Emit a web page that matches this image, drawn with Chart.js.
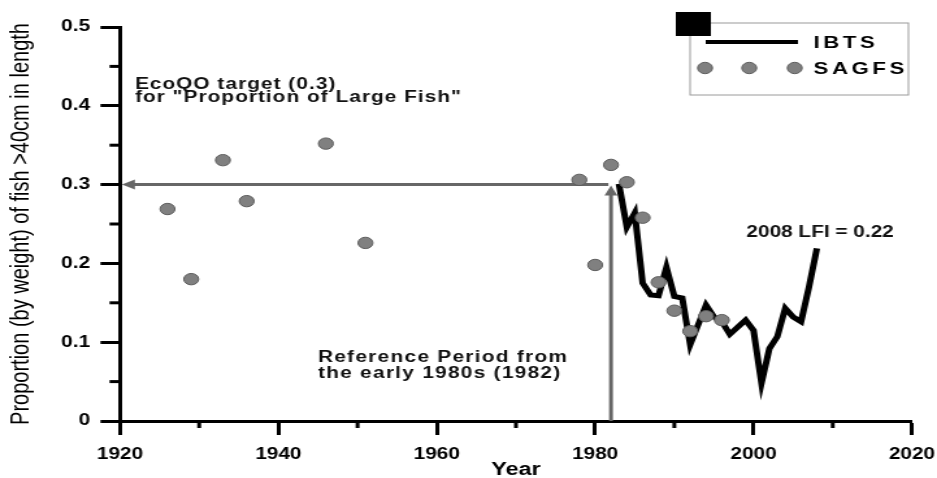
<!DOCTYPE html>
<html>
<head>
<meta charset="utf-8">
<title>Proportion of large fish</title>
<script src="https://cdn.jsdelivr.net/npm/chart.js@4.4.1/dist/chart.umd.min.js"></script>
<style>
  html, body { margin: 0; padding: 0; background: #fff; overflow: hidden; }
  /* the original figure is stretched sideways, so the chart is too */
  #wrap { width: 721px; height: 478px; transform: scaleX(1.2996); transform-origin: 0 0; }
</style>
</head>
<body>
<div id="wrap"><canvas id="lfiChart"></canvas></div>
<script>
// SAGFS survey points
const sagfsYears = [1926, 1929, 1933, 1936, 1946, 1951, 1978, 1980, 1982, 1984, 1986, 1988, 1990, 1992, 1994, 1996];
const sagfsValues = [0.269, 0.18, 0.331, 0.279, 0.352, 0.226, 0.306, 0.198, 0.325, 0.303, 0.258, 0.176, 0.14, 0.114, 0.133, 0.128];

// IBTS yearly series
const ibtsYears = [1983, 1984, 1985, 1986, 1987, 1988, 1989, 1990, 1991, 1992, 1993, 1994, 1995,
                   1996, 1997, 1998, 1999, 2000, 2001, 2002, 2003, 2004, 2005, 2006, 2007, 2008];
const ibtsValues = [0.301, 0.246, 0.264, 0.175, 0.16, 0.159, 0.195, 0.158, 0.156, 0.097, 0.122, 0.147, 0.132,
                    0.126, 0.11, 0.119, 0.128, 0.115, 0.048, 0.092, 0.107, 0.143, 0.132, 0.126, 0.17, 0.219];

// tick labels
const yearTicks = [1920, 1940, 1960, 1980, 2000, 2020];
const yearMinorTicks = [1930, 1950, 1970, 1990, 2010];
const propTicks = [0, 0.1, 0.2, 0.3, 0.4, 0.5];
const propMinorTicks = [0.05, 0.15, 0.25, 0.35, 0.45];

// EcoQO target and reference year
const ecoqoTarget = 0.3;
const referenceYear = 1982;

const FONT = "'Liberation Sans', Arial, sans-serif";
const ARROW_GREY = '#676767';

function drawArrow(ctx, x1, y1, x2, y2) {
    // head sits at x2, y2
    const ang = Math.atan2(y2 - y1, x2 - x1);
    const len = 10, half = 5;
    const c = Math.cos(ang), s = Math.sin(ang);
    ctx.beginPath();
    ctx.moveTo(x1, y1);
    ctx.lineTo(x2 - c * len * 0.7, y2 - s * len * 0.7);
    ctx.stroke();
    ctx.beginPath();
    ctx.moveTo(x2, y2);
    ctx.lineTo(x2 - c * len - s * half, y2 - s * len + c * half);
    ctx.lineTo(x2 - c * len + s * half, y2 - s * len - c * half);
    ctx.closePath();
    ctx.fill();
}

function spacedText(ctx, str, x, y, font, spacing) {
    ctx.font = font;
    ctx.letterSpacing = spacing + 'px';
    ctx.fillText(str, x, y);
    ctx.letterSpacing = '0px';
}

const figurePlugin = {
    id: 'figureExtras',
    beforeDatasetsDraw(chart) {
        const ctx = chart.ctx;
        const xs = chart.scales.x, ys = chart.scales.y;
        const xRef = xs.getPixelForValue(referenceYear);
        const yTarget = ys.getPixelForValue(ecoqoTarget);
        ctx.save();
        ctx.strokeStyle = ARROW_GREY;
        ctx.fillStyle = ARROW_GREY;
        ctx.lineWidth = 3;
        drawArrow(ctx, xRef - 2, yTarget, xs.getPixelForValue(1920) + 1.5, yTarget);
        drawArrow(ctx, xRef, ys.getPixelForValue(0), xRef, yTarget + 1);
        ctx.restore();
    },
    afterDraw(chart) {
        const ctx = chart.ctx;
        const xs = chart.scales.x, ys = chart.scales.y;
        ctx.save();

        // minor ticks
        ctx.strokeStyle = '#000';
        ctx.lineWidth = 3;
        yearMinorTicks.forEach(function(v) {
            const px = xs.getPixelForValue(v);
            ctx.beginPath();
            ctx.moveTo(px, chart.chartArea.bottom);
            ctx.lineTo(px, chart.chartArea.bottom + 7);
            ctx.stroke();
        });
        propMinorTicks.forEach(function(v) {
            const py = ys.getPixelForValue(v);
            ctx.beginPath();
            ctx.moveTo(chart.chartArea.left, py);
            ctx.lineTo(chart.chartArea.left - 8, py);
            ctx.stroke();
        });

        // annotation texts
        ctx.fillStyle = '#111';
        ctx.textBaseline = 'alphabetic';
        ctx.textAlign = 'left';
        const bold16 = 'bold 16px ' + FONT;
        spacedText(ctx, 'EcoQO target (0.3)', xs.getPixelForValue(1921.9), ys.getPixelForValue(0.421), bold16, 0.8);
        spacedText(ctx, 'for "Proportion of Large Fish"', xs.getPixelForValue(1921.9), ys.getPixelForValue(0.405), bold16, 0.8);
        spacedText(ctx, 'Reference Period from', xs.getPixelForValue(1945), ys.getPixelForValue(0.075), bold16, 1.0);
        spacedText(ctx, 'the early 1980s (1982)', xs.getPixelForValue(1945), ys.getPixelForValue(0.055), bold16, 1.0);
        spacedText(ctx, '2008 LFI = 0.22', xs.getPixelForValue(1999.1), ys.getPixelForValue(0.234), bold16, 0);

        // legend
        ctx.strokeStyle = '#9a9a9a';
        ctx.lineWidth = 1;
        ctx.strokeRect(531, 23, 168, 72);
        ctx.fillStyle = '#000';
        ctx.fillRect(520, 12, 27, 24);
        ctx.strokeStyle = '#000';
        ctx.lineWidth = 4;
        ctx.beginPath();
        ctx.moveTo(543, 42);
        ctx.lineTo(614, 42);
        ctx.stroke();
        [542.5, 576.5, 611.5].forEach(function(cx) {
            ctx.beginPath();
            ctx.arc(cx, 68, 5.7, 0, Math.PI * 2);
            ctx.fillStyle = '#808080';
            ctx.fill();
            ctx.lineWidth = 1;
            ctx.strokeStyle = '#5c5c5c';
            ctx.stroke();
        });
        ctx.fillStyle = '#000';
        spacedText(ctx, 'IBTS', 626, 47.5, 'bold 17px ' + FONT, 2.8);
        spacedText(ctx, 'SAGFS', 626, 73.5, 'bold 17px ' + FONT, 2.8);

        ctx.restore();
    }
};

const ctx = document.getElementById('lfiChart');

new Chart(ctx, {
    data: {
        datasets: [
            {
                type: 'scatter',
                label: 'SAGFS',
                data: sagfsYears.map(function(yr, i) { return { x: yr, y: sagfsValues[i] }; }),
                backgroundColor: '#808080',
                borderColor: '#5c5c5c',
                borderWidth: 1,
                pointRadius: 5.7,
                order: 1
            },
            {
                type: 'line',
                label: 'IBTS',
                data: ibtsYears.map(function(yr, i) { return { x: yr, y: ibtsValues[i] }; }),
                borderColor: '#000',
                borderWidth: 5,
                pointRadius: 0,
                tension: 0,
                fill: false,
                order: 2
            }
        ]
    },
    options: {
        responsive: true,
        maintainAspectRatio: false,
        animation: false,
        layout: { padding: { left: 0, right: 19.3, top: 27, bottom: 0 } },
        plugins: {
            legend: { display: false },
            tooltip: { enabled: false }
        },
        scales: {
            x: {
                type: 'linear',
                min: 1920,
                max: 2020,
                afterFit: function(scale) {
                    scale.height = 57;
                    scale.paddingLeft = 0;
                    scale.paddingRight = 0;
                },
                afterBuildTicks: function(scale) {
                    scale.ticks = yearTicks.map(function(v) { return { value: v }; });
                },
                ticks: {
                    padding: 10,
                    color: '#000',
                    font: { family: FONT, size: 16, weight: 'bold' },
                    callback: function(v) { return String(v); }
                },
                grid: {
                    drawOnChartArea: false,
                    drawTicks: true,
                    tickLength: 14,
                    tickWidth: 3,
                    tickColor: '#000'
                },
                border: { display: true, color: '#000', width: 3 },
                title: {
                    display: true,
                    text: 'Year',
                    color: '#000',
                    font: { family: FONT, size: 18, weight: 'bold', lineHeight: 0.9 },
                    padding: { top: 0, bottom: 0 }
                }
            },
            y: {
                type: 'linear',
                min: 0,
                max: 0.5,
                afterFit: function(scale) {
                    scale.width = 92.3;
                    scale.paddingTop = 0;
                    scale.paddingBottom = 0;
                },
                afterBuildTicks: function(scale) {
                    scale.ticks = propTicks.map(function(v) { return { value: v }; });
                },
                ticks: {
                    padding: 8,
                    color: '#000',
                    font: { family: FONT, size: 16, weight: 'bold' },
                    callback: function(v) { return v === 0 ? '0' : v.toFixed(1); }
                },
                grid: {
                    drawOnChartArea: false,
                    drawTicks: true,
                    tickLength: 15,
                    tickWidth: 3,
                    tickColor: '#000'
                },
                border: { display: true, color: '#000', width: 3 },
                title: {
                    display: true,
                    text: 'Proportion (by weight) of fish >40cm in length',
                    color: '#000',
                    font: { family: FONT, size: 20, weight: 'normal' },
                    padding: { top: 4, bottom: 0 }
                }
            }
        }
    },
    plugins: [figurePlugin]
});
</script>
</body>
</html>
